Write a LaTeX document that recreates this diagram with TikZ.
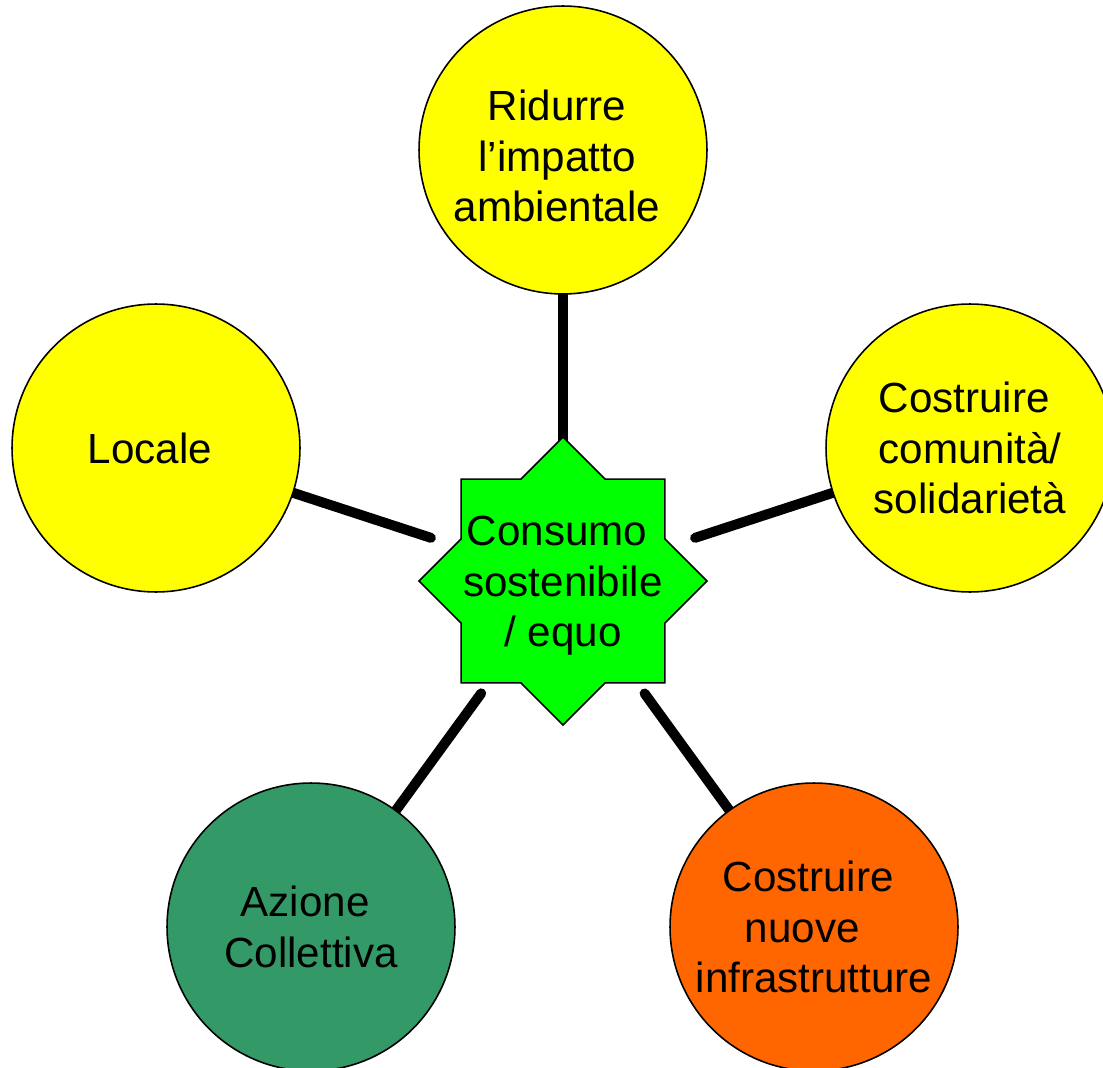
\documentclass[tikz,border=0pt]{standalone}
\usepackage{fontspec}
\setmainfont{Liberation Sans}
\usepackage{tikz}
\usetikzlibrary{shapes.geometric,calc,backgrounds}
\definecolor{bubbleyellow}{RGB}{255,255,0}
\definecolor{stargreen}{RGB}{0,255,0}
\definecolor{seagreen}{RGB}{51,153,102}
\definecolor{burntorange}{RGB}{255,102,0}
\newcommand{\tsp}{\kern.28em}

\begin{document}
\begin{tikzpicture}[x=0.02cm,y=-0.02cm,
  every node/.style={font=\fontsize{24}{28.8}\selectfont,align=center},
  bubble/.style={circle,draw=black,line width=0.9pt,minimum size=5.76cm,inner sep=0pt},
  hubstar/.style={star,star points=8,star point ratio=1.3066,draw=black,line width=0.9pt,
    fill=stargreen,minimum size=5.76cm,inner sep=0pt},
  spoke/.style={line width=0.2cm,line cap=round}]
\useasboundingbox (0,0) rectangle (1103,1068);

% centre
\node[hubstar,label={[yshift=-0.1cm]center:{Consumo\tsp\\sostenibile\\/ equo}}] (hub) at (563,581) {};

% the five aims
\node[bubble,fill=bubbleyellow,
  label={[yshift=-0.12cm]center:{Ridurre\tsp\\l'impatto\tsp\\ambientale\tsp}}] (impatto) at (563,150) {};
\node[bubble,fill=bubbleyellow] (locale) at (156,448) {Locale\tsp};
\node[bubble,fill=bubbleyellow] (comunita) at (970,448) {Costruire\tsp\\comunità/\\solidarietà};
\node[bubble,fill=seagreen] (azione) at (311,927) {Azione\tsp\\Collettiva};
\node[bubble,fill=burntorange] (infra) at (814,927) {Costruire\tsp\\nuove\tsp\tsp\\infrastrutture};

% spokes
\begin{scope}[on background layer]
\foreach \leaf in {impatto,locale,comunita,azione,infra}
  \draw[spoke] (\leaf) -- ($(hub.center)!2.78cm!(\leaf.center)$);
\end{scope}
\end{tikzpicture}
\end{document}
